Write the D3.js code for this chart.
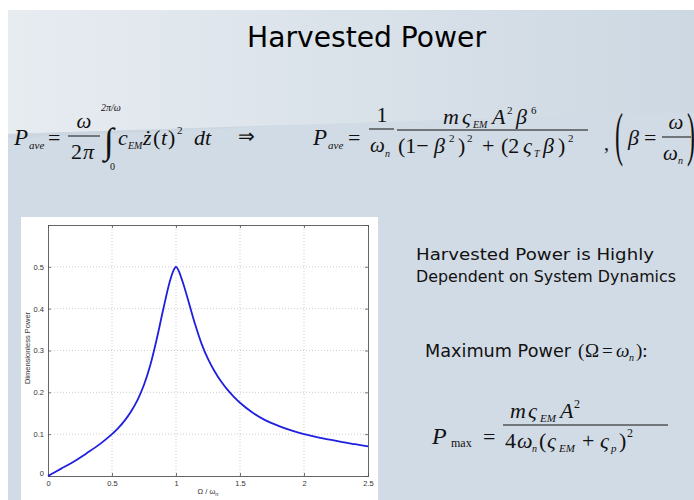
<!DOCTYPE html>
<html>
<head>
<meta charset="utf-8">
<script src="https://cdn.jsdelivr.net/npm/d3@7"></script>
<style>
  html, body { margin: 0; padding: 0; background: #ffffff; }
  svg { display: block; }
</style>
</head>
<body>
<svg id="slide" width="694" height="500"></svg>
<script>
// ---------- DATA ----------
const frequencyRatio = [0, 0.1, 0.2, 0.3, 0.4, 0.5, 0.55, 0.6, 0.65, 0.7, 0.75, 0.8, 0.85, 0.9, 0.95, 0.98, 1.0, 1.02, 1.05, 1.1, 1.15, 1.2, 1.25, 1.3, 1.35, 1.4, 1.45, 1.5, 1.6, 1.7, 1.8, 1.9, 2.0, 2.1, 2.2, 2.3, 2.4, 2.5];
const dimensionlessPower = [0, 0.017, 0.034, 0.054, 0.075, 0.100, 0.115, 0.133, 0.155, 0.182, 0.218, 0.266, 0.328, 0.398, 0.463, 0.491, 0.500, 0.491, 0.466, 0.415, 0.362, 0.316, 0.280, 0.251, 0.227, 0.207, 0.190, 0.175, 0.151, 0.133, 0.120, 0.109, 0.100, 0.093, 0.087, 0.081, 0.076, 0.071];
const xTicks = [0, 0.5, 1, 1.5, 2, 2.5];
const xTickLabels = ["0", "0.5", "1", "1.5", "2", "2.5"];
const yTicks = [0, 0.1, 0.2, 0.3, 0.4, 0.5];
const yTickLabels = ["0", "0.1", "0.2", "0.3", "0.4", "0.5"];
const xDomain = [0, 2.5];
const yDomain = [0, 0.6];
const titleText = "Harvested Power";
const noteLines = ["Harvested Power is Highly", "Dependent on System Dynamics"];
const xAxisTitle = "Ω / ω";
const yAxisTitle = "Dimensionless Power";

// ---------- SLIDE BACKGROUND ----------
const svg = d3.select("#slide");
const defs = svg.append("defs");
const g1 = defs.append("linearGradient").attr("id", "topGrad").attr("x1", "0").attr("x2", "1").attr("y1", "0").attr("y2", "0");
g1.append("stop").attr("offset", "0").attr("stop-color", "#e7ecf1");
g1.append("stop").attr("offset", "1").attr("stop-color", "#cdd8e2");

svg.append("rect").attr("x", 8).attr("y", 10).attr("width", 686).attr("height", 490).attr("fill", "#d1dbe5");
svg.append("path").attr("d", "M8,10 L694,10 L694,112 L8,134 Z").attr("fill", "url(#topGrad)");
svg.append("path").attr("d", "M8,134 L300,125 L8,138 Z").attr("fill", "#c7d2dc").attr("opacity", 0.6);

// Title
svg.append("text").attr("x", 247).attr("y", 47)
  .attr("font-family", "Tahoma, 'DejaVu Sans', sans-serif").attr("font-size", 29)
  .attr("fill", "#000").attr("textLength", 239).attr("lengthAdjust", "spacingAndGlyphs")
  .text(titleText);

// ---------- EQUATION HELPERS ----------
const serif = "'Liberation Serif', 'Times New Roman', serif";
function t(x, y, str, size, opts = {}) {
  const el = svg.append("text").attr("x", x).attr("y", y)
    .attr("font-family", opts.family || serif).attr("font-size", size)
    .attr("font-style", opts.italic ? "italic" : "normal")
    .attr("text-anchor", opts.anchor || "start")
    .attr("fill", "#111").text(str);
  if (opts.len) el.attr("textLength", opts.len).attr("lengthAdjust", "spacingAndGlyphs");
  return el;
}
function bar(x1, x2, y) {
  svg.append("line").attr("x1", x1).attr("x2", x2).attr("y1", y).attr("y2", y)
    .attr("stroke", "#111").attr("stroke-width", 1);
}
function paren(x, y, str, sy) {
  svg.append("text").attr("transform", `translate(${x},${y}) scale(1,${sy})`)
    .attr("font-family", serif).attr("font-size", 24).attr("fill", "#111").text(str);
}

// Equation line 1 : P_ave = ω/2π ∫ c_EM ż(t)^2 dt  ⇒ ...
t(14, 145, "P", 23, { italic: true });
t(29, 149, "ave", 11, { italic: true });
t(48, 145, "=", 22);
t(84, 128, "ω", 21, { italic: true, anchor: "middle" });
bar(68, 100, 136);
t(71, 159, "2", 22);
t(83, 159, "π", 22, { italic: true });
t(104, 153, "∫", 36, { italic: false });
t(101, 111, "2π/ω", 10, { italic: true });
t(110, 170, "0", 10);
t(118, 145, "c", 22, { italic: true });
t(128, 149, "EM", 10, { italic: true });
t(143, 145, "ż", 22, { italic: true });
t(153, 145, "(", 22);
t(161, 145, "t", 22, { italic: true });
t(168, 145, ")", 22);
t(177, 134, "2", 11);
t(194, 145, "dt", 22, { italic: true });
t(238, 143, "⇒", 20);

// Equation line 1 (right part)
t(313, 145, "P", 23, { italic: true });
t(328, 149, "ave", 11, { italic: true });
t(348, 145, "=", 22);
t(382, 122, "1", 22, { anchor: "middle" });
bar(369, 394, 129);
t(370, 152, "ω", 21, { italic: true });
t(385, 157, "n", 10, { italic: true });
// numerator
t(443, 124, "m", 22, { italic: true });
t(462, 124, "ς", 22, { italic: true });
t(473, 128, "EM", 10, { italic: true });
t(492, 124, "A", 22, { italic: true });
t(507, 114, "2", 11);
t(516, 124, "β", 22, { italic: true });
t(531, 114, "6", 11);
bar(397, 588, 130);
// denominator
t(398, 153, "(1−", 22);
t(434, 153, "β", 22, { italic: true });
t(449, 142, "2", 11);
t(458, 153, ")", 22);
t(467, 142, "2", 11);
t(482, 153, "+", 22);
t(501, 153, "(2", 22);
t(523, 153, "ς", 22, { italic: true });
t(534, 157, "T", 10, { italic: true });
t(543, 153, "β", 22, { italic: true });
t(558, 153, ")", 22);
t(568, 142, "2", 11);
// , ( β = ω / ω_n )
t(604, 150, ",", 20);
paren(615, 154, "(", 2.5);
t(628, 145, "β", 22, { italic: true });
t(644, 145, "=", 22);
t(676, 129, "ω", 21, { italic: true, anchor: "middle" });
bar(662, 691, 137);
t(663, 160, "ω", 21, { italic: true });
t(678, 164, "n", 10, { italic: true });
paren(687, 154, ")", 2.5);

// ---------- NOTES ON THE RIGHT ----------
const sans = "Tahoma, 'DejaVu Sans', sans-serif";
t(416, 260, noteLines[0], 15.5, { family: sans, len: 238 });
t(416, 282, noteLines[1], 15.5, { family: sans, len: 260 });
t(425, 357, "Maximum Power", 18.5, { family: sans, len: 146 });
t(578, 357, "(", 19);
t(585, 357, "Ω", 19);
t(602, 357, "=", 19);
t(616, 357, "ω", 19, { italic: true });
t(629, 361, "n", 10, { italic: true });
t(636, 357, "):", 19);

// P_max formula
t(432, 444, "P", 24, { italic: true });
t(451, 447, "max", 12);
t(483, 444, "=", 22);
t(510, 418, "m", 22, { italic: true });
t(528, 418, "ς", 22, { italic: true });
t(540, 422, "EM", 11, { italic: true });
t(560, 418, "A", 22, { italic: true });
t(574, 408, "2", 12);
bar(503, 668, 425);
t(505, 448, "4", 22);
t(517, 448, "ω", 22, { italic: true });
t(532, 452, "n", 10, { italic: true });
t(539, 448, "(", 22);
t(547, 448, "ς", 22, { italic: true });
t(559, 452, "EM", 11, { italic: true });
t(582, 448, "+", 22);
t(600, 448, "ς", 22, { italic: true });
t(611, 452, "p", 11, { italic: true });
t(619, 448, ")", 22);
t(627, 437, "2", 12);

// ---------- CHART ----------
svg.append("rect").attr("x", 21).attr("y", 217).attr("width", 357).attr("height", 283).attr("fill", "#ffffff");

const x = d3.scaleLinear().domain(xDomain).range([48, 368]);
const y = d3.scaleLinear().domain(yDomain).range([476, 225]);
const chart = svg.append("g");

// grid
chart.append("g").selectAll("line").data(xTicks.slice(1, -1)).join("line")
  .attr("x1", d => x(d)).attr("x2", d => x(d)).attr("y1", y(0)).attr("y2", y(0.6))
  .attr("stroke", "#b8b8b8").attr("stroke-width", 0.7).attr("stroke-dasharray", "1,2");
chart.append("g").selectAll("line").data(yTicks.slice(1)).join("line")
  .attr("x1", x(0)).attr("x2", x(2.5)).attr("y1", d => y(d)).attr("y2", d => y(d))
  .attr("stroke", "#b8b8b8").attr("stroke-width", 0.7).attr("stroke-dasharray", "1,2");

// axes via d3
const tickFont = "Helvetica, Arial, 'Liberation Sans', sans-serif";
const xAxisG = chart.append("g").attr("transform", `translate(0,${y(0)})`)
  .call(d3.axisBottom(x).tickValues(xTicks).tickFormat((d, i) => xTickLabels[i]).tickSize(-3).tickPadding(5));
const yAxisG = chart.append("g").attr("transform", `translate(${x(0)},0)`)
  .call(d3.axisLeft(y).tickValues(yTicks).tickFormat((d, i) => yTickLabels[i]).tickSize(-3).tickPadding(4));
const xTopG = chart.append("g").attr("transform", `translate(0,${y(0.6)})`)
  .call(d3.axisTop(x).tickValues(xTicks).tickSize(-3).tickFormat(""));
const yRightG = chart.append("g").attr("transform", `translate(${x(2.5)},0)`)
  .call(d3.axisRight(y).tickValues(yTicks).tickSize(-3).tickFormat(""));
[xAxisG, yAxisG, xTopG, yRightG].forEach(g => {
  g.select(".domain").attr("stroke", "#555").attr("stroke-width", 0.9);
  g.selectAll(".tick line").attr("stroke", "#555").attr("stroke-width", 0.8);
  g.selectAll(".tick text").attr("font-family", tickFont).attr("font-size", 7.5).attr("fill", "#333");
});
yAxisG.selectAll(".tick text").filter(d => d === 0).attr("dy", "-0.05em");

// curve
const pts = frequencyRatio.map((b, i) => [b, dimensionlessPower[i]]);
const line = d3.line().x(d => x(d[0])).y(d => y(d[1])).curve(d3.curveCatmullRom.alpha(0.5));
chart.append("path").datum(pts).attr("d", line)
  .attr("fill", "none").attr("stroke", "#1f1fe0").attr("stroke-width", 1.8);

// axis titles
const xt = chart.append("text").attr("x", 208).attr("y", 494).attr("text-anchor", "middle")
  .attr("font-family", tickFont).attr("font-size", 7.5).attr("fill", "#333").text(xAxisTitle);
xt.append("tspan").attr("font-size", 5.5).attr("dy", 2).text("n");
chart.append("text").attr("transform", `translate(30,348) rotate(-90)`).attr("text-anchor", "middle")
  .attr("font-family", tickFont).attr("font-size", 7.5).attr("fill", "#333").text(yAxisTitle);
</script>
</body>
</html>
